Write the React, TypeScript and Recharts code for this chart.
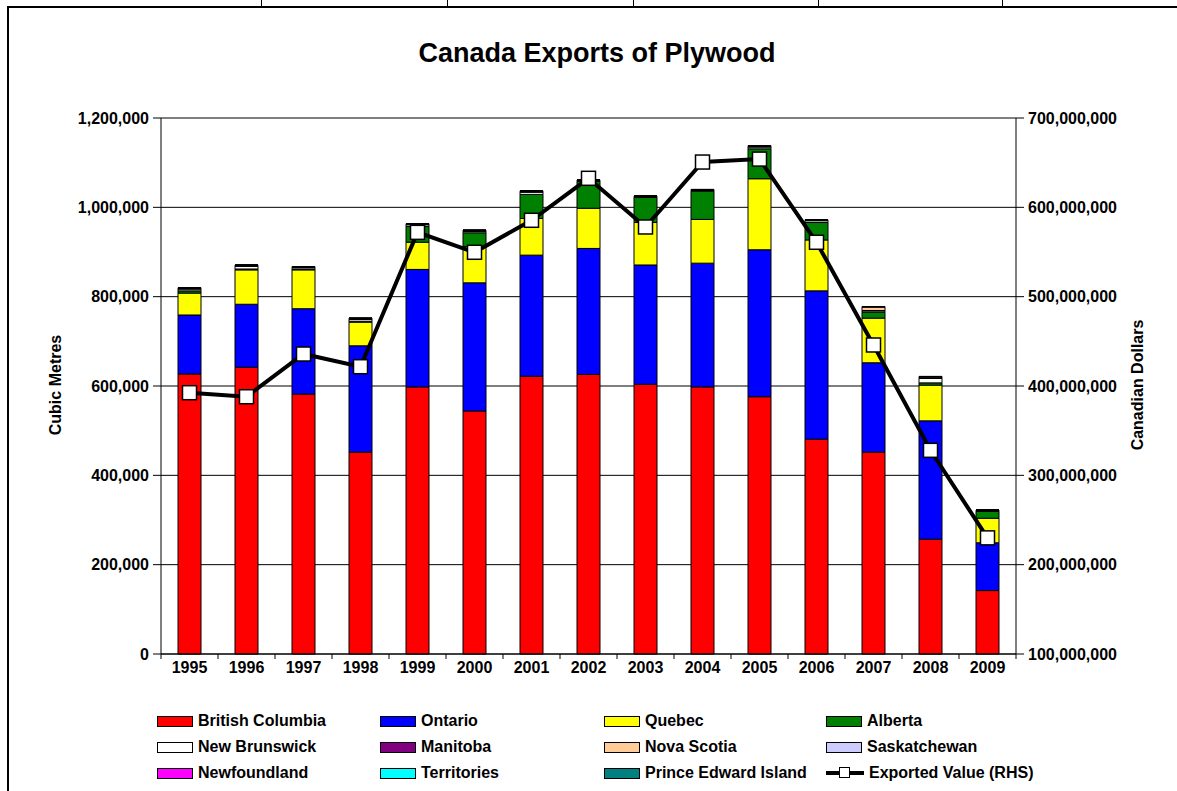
import { ComposedChart, Bar, Line, XAxis, YAxis, CartesianGrid } from "recharts";

// volumes in cubic metres
const years = ["1995", "1996", "1997", "1998", "1999", "2000", "2001", "2002", "2003", "2004", "2005", "2006", "2007", "2008", "2009"];
const britishColumbia = [627000, 642000, 582000, 452000, 598000, 544000, 622000, 626000, 604000, 598000, 576000, 481000, 452000, 257000, 142000];
const ontario = [132000, 141000, 191000, 238000, 263000, 287000, 271000, 282000, 267000, 277000, 329000, 332000, 200000, 265000, 107000];
const quebec = [49000, 77000, 87000, 53000, 61000, 81000, 82000, 90000, 95000, 98000, 159000, 114000, 100000, 80000, 55000];
const alberta = [5000, 2000, 2000, 2000, 35000, 31000, 54000, 60000, 56000, 63000, 67000, 39000, 13000, 5000, 15000];
const newBrunswick = [4000, 6000, 3000, 4000, 4000, 3000, 5000, 2000, 2000, 2000, 4000, 4000, 3000, 10000, 2000];
const manitoba = [1000, 1000, 1000, 1000, 1000, 1000, 1000, 500, 500, 1000, 1000, 1000, 1000, 1000, 500];
const novaScotia = [1000, 1000, 500, 1000, 500, 1000, 1000, 300, 300, 500, 1000, 500, 8000, 2000, 300];
const saskatchewan = [500, 500, 500, 500, 300, 500, 500, 200, 200, 300, 500, 300, 500, 1000, 200];
const newfoundland = [200, 200, 200, 200, 200, 200, 200, 100, 100, 100, 200, 100, 200, 200, 100];
const territories = [100, 100, 100, 100, 100, 100, 100, 100, 100, 100, 100, 100, 100, 100, 100];
const princeEdwardIsland = [200, 200, 200, 200, 200, 200, 200, 100, 100, 100, 200, 100, 200, 200, 100];
// exported value, canadian dollars (right axis)
const exportedValue = [392500000, 388000000, 435800000, 421600000, 572000000, 549700000, 585500000, 632500000, 578000000, 650700000, 654000000, 560900000, 445900000, 328000000, 230000000];

const leftTicks = [0, 200000, 400000, 600000, 800000, 1000000, 1200000];
const rightTicks = [100000000, 200000000, 300000000, 400000000, 500000000, 600000000, 700000000];

const series = [
    { key: "bc", name: "British Columbia", color: "#FF0000", values: britishColumbia },
    { key: "on", name: "Ontario", color: "#0000FF", values: ontario },
    { key: "qc", name: "Quebec", color: "#FFFF00", values: quebec },
    { key: "ab", name: "Alberta", color: "#008000", values: alberta },
    { key: "nb", name: "New Brunswick", color: "#FFFFFF", values: newBrunswick },
    { key: "mb", name: "Manitoba", color: "#800080", values: manitoba },
    { key: "ns", name: "Nova Scotia", color: "#FFCC99", values: novaScotia },
    { key: "sk", name: "Saskatchewan", color: "#CCCCFF", values: saskatchewan },
    { key: "nl", name: "Newfoundland", color: "#FF00FF", values: newfoundland },
    { key: "yt", name: "Territories", color: "#00FFFF", values: territories },
    { key: "pe", name: "Prince Edward Island", color: "#008080", values: princeEdwardIsland },
];

const data = years.map((year, i) => {
    const row: any = { year, value: exportedValue[i] };
    series.forEach((s) => { row[s.key] = s.values[i]; });
    return row;
});

const W = 1177;
const H = 791;
const axisW = 161;
const xAxisH = 30;
const marginBottom = 107;
const tickSize = 6;
const tickMargin = 2;
const band = (W - axisW * 2) / years.length;
const font = "'Liberation Sans', Arial, sans-serif";

const fmt = (v: number) => v.toLocaleString("en-US");

const YearTick = (props: any) => {
    const { x, y, payload, index } = props;
    const axisY = y - tickSize - tickMargin;
    return (
        <g>
            <line x1={x - band / 2} x2={x - band / 2} y1={axisY} y2={axisY + 5} stroke="#000" />
            {index === years.length - 1 && <line x1={x + band / 2} x2={x + band / 2} y1={axisY} y2={axisY + 5} stroke="#000" />}
            <text x={x} y={y} dy="0.71em" textAnchor="middle" fontSize={16} fontWeight="bold" fontFamily={font} fill="#000">
                {payload.value}
            </text>
        </g>
    );
};

const SquareDot = (props: any) => {
    const { cx, cy, index } = props;
    return <rect key={index} x={cx - 7} y={cy - 7} width={14} height={14} fill="#fff" stroke="#000" strokeWidth={1.5} />;
};

const legendCols = [157, 380, 604, 826];
const legendRows = [721, 747, 773];

const App = () => {
    const legendItems = [...series.map((s) => ({ name: s.name, color: s.color, line: false })), { name: "Exported Value (RHS)", color: "#000", line: true }];
    return (
        <div style={{ position: "absolute", left: 0, top: 0, width: W, height: H, background: "#fff", fontFamily: font, overflow: "hidden" }}>
            {/* frame left over from the spreadsheet */}
            <div style={{ position: "absolute", left: 8, top: 6, width: W - 8, height: 2, background: "#000" }} />
            <div style={{ position: "absolute", left: 7, top: 6, width: 2, height: H - 6, background: "#000" }} />
            {[261, 447, 633, 818, 1002].map((x) => (
                <div key={x} style={{ position: "absolute", left: x, top: 0, width: 1, height: 6, background: "#000" }} />
            ))}

            <ComposedChart width={W} height={H} data={data} margin={{ top: 118, right: 0, bottom: marginBottom, left: 0 }}>
                <CartesianGrid yAxisId="left" vertical={false} stroke="#000" />
                <XAxis dataKey="year" interval={0} height={xAxisH} tickLine={false} tickSize={tickSize} tickMargin={tickMargin} axisLine={{ stroke: "#000" }} tick={<YearTick />} />
                <YAxis yAxisId="left" width={axisW} domain={[0, 1200000]} ticks={leftTicks} tickFormatter={fmt} tickSize={8} tickMargin={4}
                    axisLine={{ stroke: "#000" }} tickLine={{ stroke: "#000" }}
                    tick={{ fontSize: 16, fontWeight: "bold", fill: "#000", fontFamily: font }} />
                <YAxis yAxisId="right" orientation="right" width={axisW} domain={[100000000, 700000000]} ticks={rightTicks} tickFormatter={fmt} tickSize={8} tickMargin={4}
                    axisLine={{ stroke: "#000" }} tickLine={{ stroke: "#000" }}
                    tick={{ fontSize: 16, fontWeight: "bold", fill: "#000", fontFamily: font, textAnchor: "start" }} />
                {series.map((s) => (
                    <Bar key={s.key} yAxisId="left" dataKey={s.key} name={s.name} stackId="a" fill={s.color} stroke="#000" strokeWidth={1} barSize={23} isAnimationActive={false} />
                ))}
                <Line yAxisId="right" type="linear" dataKey="value" name="Exported Value (RHS)" stroke="#000" strokeWidth={4} dot={<SquareDot />} activeDot={false} isAnimationActive={false} />
            </ComposedChart>

            <div style={{ position: "absolute", left: 397, top: 40, width: 400, textAlign: "center", fontSize: 27, lineHeight: "27px", fontWeight: "bold" }}>
                Canada Exports of Plywood
            </div>
            <div style={{ position: "absolute", left: 56, top: 385, transform: "translate(-50%, -50%) rotate(-90deg)", whiteSpace: "nowrap", fontSize: 16, fontWeight: "bold" }}>
                Cubic Metres
            </div>
            <div style={{ position: "absolute", left: 1138, top: 385, transform: "translate(-50%, -50%) rotate(-90deg)", whiteSpace: "nowrap", fontSize: 16, fontWeight: "bold" }}>
                Canadian Dollars
            </div>

            {legendItems.map((item, i) => {
                const left = legendCols[i % 4];
                const cy = legendRows[Math.floor(i / 4)];
                return (
                    <div key={item.name} style={{ position: "absolute", left, top: cy - 10, height: 20, display: "flex", alignItems: "center", whiteSpace: "nowrap" }}>
                        {item.line ? (
                            <div style={{ position: "relative", width: 38, height: 12 }}>
                                <div style={{ position: "absolute", left: 0, top: 4, width: 38, height: 4, background: "#000" }} />
                                <div style={{ position: "absolute", left: 13, top: 0, width: 9, height: 9, background: "#fff", border: "1.5px solid #000" }} />
                            </div>
                        ) : (
                            <div style={{ width: 34, height: 9, background: item.color, border: "1px solid #000" }} />
                        )}
                        <span style={{ marginLeft: 5, fontSize: 16, fontWeight: "bold" }}>{item.name}</span>
                    </div>
                );
            })}
        </div>
    );
};

export default App;
